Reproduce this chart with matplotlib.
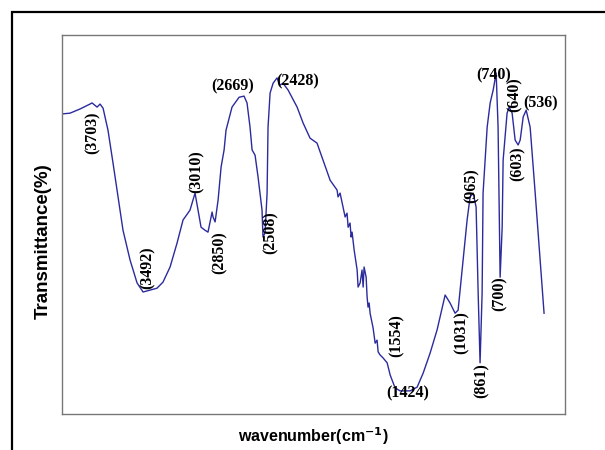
import numpy as np
import matplotlib
matplotlib.use('Agg')
import matplotlib.pyplot as plt
from matplotlib.patches import Rectangle

# FTIR spectrum (wavenumber cm-1, transmittance %)
wavenumber = [3930, 3871, 3798, 3725, 3710, 3673, 3651, 3629, 3593, 3556,
              3519, 3483, 3431, 3380, 3336, 3285, 3234, 3190, 3138, 3087,
              3043, 2992, 2955, 2911, 2882, 2860, 2830, 2823, 2808, 2786,
              2764, 2742, 2728, 2684, 2632, 2596, 2574, 2552, 2537, 2515,
              2493, 2464, 2457, 2442, 2427, 2420, 2405, 2383, 2354, 2332,
              2310, 2273, 2207, 2163, 2112, 2061, 2017, 1965, 1914, 1907,
              1892, 1877, 1870, 1855, 1841, 1833, 1819, 1811, 1804, 1789,
              1767, 1760, 1745, 1731, 1723, 1716, 1701, 1694, 1687, 1679,
              1672, 1657, 1650, 1635, 1621, 1613, 1599, 1577, 1547, 1525,
              1489, 1452, 1379, 1327, 1283, 1232, 1181, 1122, 1086,
              1049, 1027, 990, 961, 939, 917, 895, 880, 866, 851,
              844, 814, 792, 770, 748, 734, 719, 704, 697, 668,
              653, 631, 609, 587, 572, 550, 528, 499, 462, 426, 397]
transmittance = [79.2, 79.4, 80.5, 81.8, 82.1, 81.0, 81.8, 80.7, 74.9, 66.2,
                 57.3, 48.5, 40.6, 34.6, 32.2, 32.7, 33.2, 34.8, 38.8, 45.1,
                 51.2, 53.8, 58.3, 49.3, 48.5, 48.0, 53.3, 52.0, 50.7, 56.5,
                 65.2, 69.7, 74.9, 81.0, 83.6, 83.9, 82.1, 75.7, 69.7, 68.3,
                 62.5, 53.8, 46.7, 47.8, 58.3, 75.7, 84.7, 87.3, 88.7, 86.8,
                 87.3, 85.5, 81.0, 76.8, 72.8, 71.5, 67.0, 61.7, 59.1, 57.3,
                 58.3, 55.7, 54.6, 52.0, 53.0, 49.3, 50.4, 46.7, 48.0, 43.3,
                 38.0, 33.5, 34.6, 38.0, 33.5, 38.8, 36.1, 30.9, 28.2, 29.3,
                 26.6, 24.0, 22.7, 18.7, 19.5, 16.4, 15.6, 14.8, 13.5, 10.3,
                 6.9, 6.1, 6.1, 7.1, 10.8, 16.1, 22.2, 31.4, 29.3,
                 26.6, 27.4, 40.6, 51.2, 57.3, 58.3, 54.6, 31.9, 13.5, 31.9,
                 58.3, 75.7, 82.1, 85.5, 90.0, 75.7, 36.1, 49.3, 67.0, 79.4,
                 81.0, 79.4, 72.3, 71.0, 72.3, 78.4, 80.2, 75.7, 58.3, 40.6, 26.6]

peak_labels = ['(3703)', '(3492)', '(3010)', '(2850)', '(2669)', '(2508)',
               '(2428)', '(1554)', '(1424)', '(1031)', '(965)', '(861)',
               '(740)', '(700)', '(640)', '(603)', '(536)']

# where each label sits (data coords) and its rotation
label_layout = [(3703, 74.1, 90), (3300, 38.5, 90), (2940, 63.9, 90),
                (2772, 42.5, 90), (2676, 86.5, 0), (2398, 47.8, 90),
                (2200, 87.9, 0), (1474, 20.6, 90), (1393, 5.5, 0),
                (998, 21.4, 90), (925, 60.2, 90), (851, 8.7, 90),
                (763, 89.4, 0), (719, 31.7, 90), (609, 84.2, 90),
                (594, 66.0, 90), (426, 82.1, 0)]

fig = plt.figure(figsize=(6.05, 4.5), dpi=100)
ax = fig.add_axes([0.1025, 0.08, 0.8315, 0.842])

ax.plot(wavenumber, transmittance, color='#2b2b9e', lw=1.0)
ax.set_xlim(3930, 243)
ax.set_ylim(0, 100)
ax.set_xticks([])
ax.set_yticks([])
for s in ax.spines.values():
    s.set_color('#777777')
    s.set_linewidth(1.0)

for txt, (x, y, rot) in zip(peak_labels, label_layout):
    ax.text(x, y, txt, rotation=rot, ha='center', va='center',
            family='Liberation Serif', fontweight='bold', fontsize=11.5)

ax.set_ylabel('Transmittance(%)', family='Liberation Sans', fontweight='bold',
              fontsize=13.5)
ax.yaxis.set_label_coords(-0.02, 0.455)
ax.set_xlabel('wavenumber(cm$^{\\mathbf{-1}}$)', family='Liberation Sans',
              fontweight='bold', fontsize=11.5, labelpad=8)

# outer black frame (runs off the right and bottom edge)
fig.patches.append(Rectangle((12 / 605, -0.1), 1.2, 0.1 + 438 / 450,
                             transform=fig.transFigure, fill=False,
                             edgecolor='black', lw=1.6))

fig.savefig('out.png', dpi=100)
